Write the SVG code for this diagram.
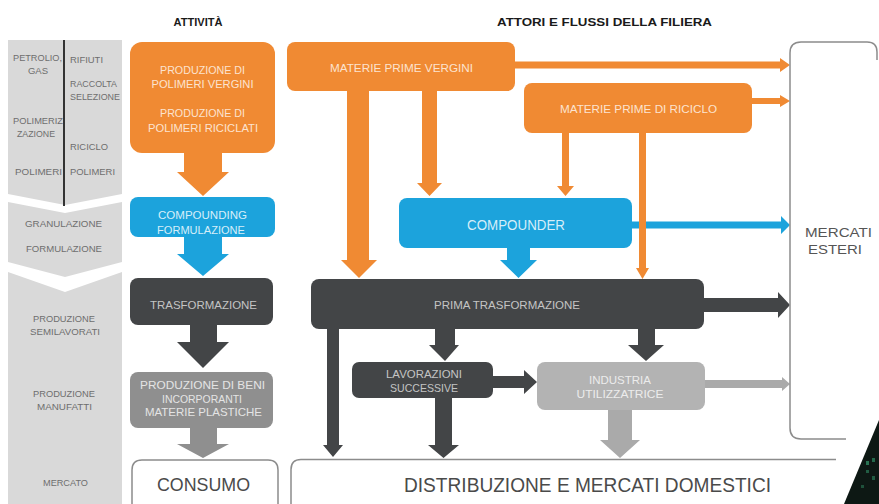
<svg xmlns="http://www.w3.org/2000/svg" width="879" height="504" viewBox="0 0 879 504">
<style>
text{font-family:"Liberation Sans",Arial,sans-serif;text-anchor:middle}
.hd{font-size:11px;font-weight:bold;fill:#1a1a1a}
.lc{font-size:9.5px;fill:#6e6e6e}
.ll{text-anchor:start}
.t{font-size:11.5px}
.to{fill:#fce3cf}.tb{fill:#d6eef9}.td{fill:#c4c4c4}.tg{fill:#e4e4e4}.ti{fill:#ececec}
.or{fill:#f08a33}.bl{fill:#1ca3dc}.dk{fill:#434547}.g1{fill:#8f8f8f}.g2{fill:#b3b3b3}.g3{fill:#aaaaaa}
.band{fill:#d9d9d9}
.frame{fill:none;stroke:#8c8c8c;stroke-width:1.5}
.big{fill:#4a4a4a}
</style>
<rect width="879" height="504" fill="#ffffff"/>

<!-- left column -->
<g id="left-column">
<polygon class="band" points="8,40 122,40 122,194 65,205 8,194"/>
<polygon class="band" points="8,202 65,213 122,202 122,262 65,277 8,262"/>
<polygon class="band" points="8,272 65,292 122,272 122,504 8,504"/>
<line x1="64" y1="40" x2="64" y2="206" stroke="#333" stroke-width="2"/>
<text class="lc" x="37.5" y="61" textLength="49" lengthAdjust="spacingAndGlyphs">PETROLIO,</text>
<text class="lc" x="38" y="74">GAS</text>
<text class="lc" x="38" y="124" textLength="50" lengthAdjust="spacingAndGlyphs">POLIMERIZ</text>
<text class="lc" x="36" y="137" textLength="38" lengthAdjust="spacingAndGlyphs">ZAZIONE</text>
<text class="lc" x="38.5" y="175" textLength="47" lengthAdjust="spacingAndGlyphs">POLIMERI</text>
<text class="lc ll" x="70" y="63" textLength="33" lengthAdjust="spacingAndGlyphs">RIFIUTI</text>
<text class="lc ll" x="70" y="87" textLength="47" lengthAdjust="spacingAndGlyphs">RACCOLTA</text>
<text class="lc ll" x="70" y="100" textLength="50" lengthAdjust="spacingAndGlyphs">SELEZIONE</text>
<text class="lc ll" x="70" y="150" textLength="38" lengthAdjust="spacingAndGlyphs">RICICLO</text>
<text class="lc ll" x="70" y="175" textLength="45" lengthAdjust="spacingAndGlyphs">POLIMERI</text>
<text class="lc" x="63.5" y="227" textLength="77" lengthAdjust="spacingAndGlyphs">GRANULAZIONE</text>
<text class="lc" x="64" y="252" textLength="76" lengthAdjust="spacingAndGlyphs">FORMULAZIONE</text>
<text class="lc" x="64" y="322" textLength="62" lengthAdjust="spacingAndGlyphs">PRODUZIONE</text>
<text class="lc" x="65" y="335" textLength="70" lengthAdjust="spacingAndGlyphs">SEMILAVORATI</text>
<text class="lc" x="64" y="397" textLength="62" lengthAdjust="spacingAndGlyphs">PRODUZIONE</text>
<text class="lc" x="64.5" y="410" textLength="55" lengthAdjust="spacingAndGlyphs">MANUFATTI</text>
<text class="lc" x="65.5" y="486" textLength="45" lengthAdjust="spacingAndGlyphs" style="font-size:8.5px">MERCATO</text>
</g>

<!-- headings -->
<text class="hd" x="198" y="26" textLength="49" lengthAdjust="spacingAndGlyphs">ATTIVITÀ</text>
<text class="hd" x="604.5" y="26" textLength="215" lengthAdjust="spacingAndGlyphs">ATTORI E FLUSSI DELLA FILIERA</text>

<!-- connectors -->
<g id="connectors">
<!-- activity column -->
<polygon class="or" points="184,150 222,150 222,172 229,172 203,196 177,172 184,172"/>
<polygon class="bl" points="184,235 222,235 222,254 229,254 203,276 177,254 184,254"/>
<polygon class="dk" points="190,323 217,323 217,342 229,342 203,368 177,342 190,342"/>
<polygon class="g1" points="190,426 217,426 217,444 229,444 203,458 177,444 190,444"/>
<!-- orange flows -->
<polygon class="or" points="347,88 369,88 369,260 377,260 359,278 341,260 347,260"/>
<polygon class="or" points="422,88 437,88 437,183 442,183 429.5,196 417,183 422,183"/>
<polygon class="or" points="512,61.5 780,61.5 780,58 790,65 780,72 780,68.5 512,68.5"/>
<polygon class="or" points="750,98 780,98 780,95 790,101 780,107 780,104 750,104"/>
<polygon class="or" points="562,130 569,130 569,186 574,186 565.5,196 557,186 562,186"/>
<!-- blue flows -->
<polygon class="bl" points="628,221.5 781,221.5 781,216 790,225 781,234 781,228.5 628,228.5"/>
<polygon class="bl" points="507,245 530,245 530,260 537,260 518.5,278 500,260 507,260"/>
<polygon class="or" points="639,130 646,130 646,268 649,268 642.5,279 636,268 639,268"/>
<!-- dark flows -->
<polygon class="dk" points="700,298 778,298 778,292 790,305 778,318 778,312 700,312"/>
<polygon class="dk" points="327,325 339,325 339,445 343,445 333,457 323,445 327,445"/>
<polygon class="dk" points="435,325 455,325 455,345 459,345 445,361 429,345 435,345"/>
<polygon class="dk" points="638,325 655,325 655,345 664,345 646,361 628,345 638,345"/>
<polygon class="dk" points="490,376 524,376 524,370 537,382 524,394 524,388 490,388"/>
<polygon class="dk" points="435,395 452,395 452,445 459,445 443.5,458 428,445 435,445"/>
<!-- gray flows -->
<polygon class="g3" points="702,380 782,380 782,377 790,384 782,391 782,388 702,388"/>
<polygon class="g3" points="608,407 632,407 632,440 640,440 620,458 600,440 608,440"/>
</g>

<!-- activity nodes -->
<g id="produzione-polimeri">
<rect class="or" x="130" y="42" width="145" height="111" rx="12"/>
<text class="t to" x="202.5" y="74" textLength="85" lengthAdjust="spacingAndGlyphs">PRODUZIONE DI</text>
<text class="t to" x="202.5" y="87.5" textLength="102" lengthAdjust="spacingAndGlyphs">POLIMERI VERGINI</text>
<text class="t to" x="202.5" y="117" textLength="85" lengthAdjust="spacingAndGlyphs">PRODUZIONE DI</text>
<text class="t to" x="203" y="132" textLength="110" lengthAdjust="spacingAndGlyphs">POLIMERI RICICLATI</text>
</g>
<g id="compounding">
<rect class="bl" x="130" y="197" width="145" height="40" rx="8"/>
<text class="t tb" x="202.5" y="219" textLength="89" lengthAdjust="spacingAndGlyphs">COMPOUNDING</text>
<text class="t tb" x="201" y="234" textLength="88" lengthAdjust="spacingAndGlyphs">FORMULAZIONE</text>
</g>
<g id="trasformazione">
<rect class="dk" x="130" y="278" width="143" height="47" rx="8"/>
<text class="t td" x="203.5" y="309" textLength="107" lengthAdjust="spacingAndGlyphs">TRASFORMAZIONE</text>
</g>
<g id="produzione-beni">
<rect class="g1" x="130" y="372" width="143" height="56" rx="8"/>
<text class="t tg" x="202.5" y="389" textLength="125" lengthAdjust="spacingAndGlyphs">PRODUZIONE DI BENI</text>
<text class="t tg" x="202" y="402.5" textLength="80" lengthAdjust="spacingAndGlyphs">INCORPORANTI</text>
<text class="t tg" x="203.5" y="416" textLength="117" lengthAdjust="spacingAndGlyphs">MATERIE PLASTICHE</text>
</g>
<g id="consumo">
<path class="frame" d="M132,504 V470 Q132,460 142,460 H268 Q278,460 278,470 V504"/>
<text class="big" x="203.5" y="491" style="font-size:19px" textLength="93" lengthAdjust="spacingAndGlyphs">CONSUMO</text>
</g>

<!-- actor nodes -->
<g id="materie-prime-vergini">
<rect class="or" x="287" y="42" width="228" height="49" rx="8"/>
<text class="t to" x="401.5" y="72" textLength="143" lengthAdjust="spacingAndGlyphs">MATERIE PRIME VERGINI</text>
</g>
<g id="materie-prime-riciclo">
<rect class="or" x="524" y="83" width="228" height="50" rx="8"/>
<text class="t to" x="638.5" y="113" textLength="157" lengthAdjust="spacingAndGlyphs">MATERIE PRIME DI RICICLO</text>
</g>
<g id="compounder">
<rect class="bl" x="399" y="198" width="233" height="50" rx="8"/>
<text class="tb" x="516" y="230" style="font-size:14px" textLength="98" lengthAdjust="spacingAndGlyphs">COMPOUNDER</text>
</g>
<g id="prima-trasformazione">
<rect class="dk" x="311" y="279" width="393" height="50" rx="8"/>
<text class="t td" x="507" y="309" textLength="146" lengthAdjust="spacingAndGlyphs">PRIMA TRASFORMAZIONE</text>
</g>
<g id="lavorazioni-successive">
<rect class="dk" x="352" y="362" width="141" height="36" rx="7"/>
<text class="t td" x="424" y="378" textLength="76" lengthAdjust="spacingAndGlyphs">LAVORAZIONI</text>
<text class="t td" x="424" y="391.5" textLength="68" lengthAdjust="spacingAndGlyphs">SUCCESSIVE</text>
</g>
<g id="industria-utilizzatrice">
<rect class="g2" x="537" y="362" width="168" height="48" rx="8"/>
<text class="t ti" x="620" y="384" textLength="62" lengthAdjust="spacingAndGlyphs">INDUSTRIA</text>
<text class="t ti" x="620" y="398" textLength="87" lengthAdjust="spacingAndGlyphs">UTILIZZATRICE</text>
</g>
<g id="mercati-esteri">
<path class="frame" d="M846,439 H801 Q790,439 790,428 V53 Q790,42 801,42 H867 Q877,42 877,52 V60"/>
<text class="big" x="838.5" y="237" style="font-size:13.5px;fill:#555" textLength="67" lengthAdjust="spacingAndGlyphs">MERCATI</text>
<text class="big" x="835" y="254" style="font-size:13.5px;fill:#555" textLength="54" lengthAdjust="spacingAndGlyphs">ESTERI</text>
</g>
<g id="distribuzione">
<path class="frame" d="M836,459.5 H301 Q291,459.5 291,469.5 V504"/>
<text class="big" x="587.5" y="492" style="font-size:20px" textLength="367" lengthAdjust="spacingAndGlyphs">DISTRIBUZIONE E MERCATI DOMESTICI</text>
</g>

<!-- corner decoration -->
<g id="corner">
<polygon points="879,420 879,504 844,504" fill="#0d1814"/>
<rect x="866" y="461" width="3" height="4" fill="#2f8a62" opacity="0.8"/>
<rect x="872" y="458" width="3" height="4" fill="#2f8a62" opacity="0.7"/>
<rect x="866" y="470" width="3" height="3" fill="#2f8a62" opacity="0.6"/>
<rect x="872" y="476" width="3" height="4" fill="#2f8a62" opacity="0.6"/>
<rect x="861" y="485" width="3" height="3" fill="#2f8a62" opacity="0.5"/>
</g>
</svg>
